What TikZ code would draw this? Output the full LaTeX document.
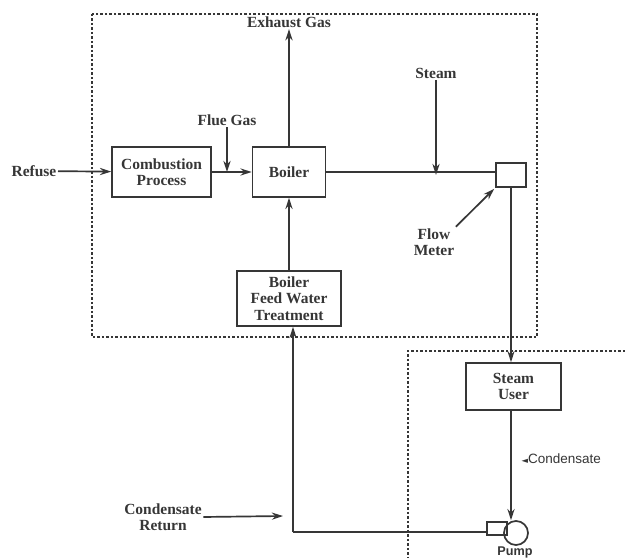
\documentclass[tikz,border=0pt]{standalone}
\usepackage{fontspec}
\setmainfont{Liberation Serif}
\setsansfont{Liberation Sans}
\newfontfamily\symfont{DejaVu Sans}
\definecolor{ink}  {HTML}{363636}
\definecolor{paper}{HTML}{FFFFFF}
\usetikzlibrary{arrows.meta}

\begin{document}
\begin{tikzpicture}[
  x=0.025cm, y=-0.025cm,
  text=ink,
  font=\fontsize{11}{11.6}\selectfont\bfseries,
  box/.style  ={draw=ink, line width=1.2pt, align=center, inner sep=0pt},
  pipe/.style ={draw=ink, line width=1.2pt},
  flow/.style ={pipe, -{Stealth[length=2.8mm, width=1.8mm]}},
  fence/.style={draw=ink, line width=2pt, dash pattern=on 1.7pt off 1.5pt},
  lbl/.style  ={align=center, inner sep=1pt},
]
  \useasboundingbox[fill=paper] (0,0) rectangle (625,558);

  % --- plant boundaries -----------------------------------------
  \draw[fence] (92,14) rectangle (537,337);
  \draw[fence] (625,351) -- (408,351) -- (408,558);

  % --- process units --------------------------------------------
  \node[box, minimum width=24.75mm, minimum height=12.5mm]
    (comb) at (161.5,172) {Combustion\\Process};
  \node[box, minimum width=18.25mm, minimum height=12.5mm]
    (boiler) at (289,172) {Boiler};
  \node[box, minimum width=26mm, minimum height=13.75mm]
    (bfwt) at (289,298.5) {Boiler\\Feed Water\\Treatment};
  \node[box, minimum width=7.5mm, minimum height=6mm]
    (meter) at (511,175) {};
  \node[box, minimum width=23.75mm, minimum height=11.75mm]
    (user) at (513.5,386.5) {Steam\\User};
  \node[box, circle, minimum size=6mm] (pump) at (516,533) {};
  \node[box, minimum width=5mm, minimum height=3.25mm]
    (pumpbox) at (497,528.5) {};

  % --- labels ---------------------------------------------------
  \node[lbl, anchor=east] (refuse)  at (58,171)   {Refuse};
  \node[lbl]              (flue)    at (227,120)  {Flue Gas};
  \node[lbl]              (exhaust) at (289,22)   {Exhaust Gas};
  \node[lbl]              (steam)   at (436,73)   {Steam};
  \node[lbl]              (meterlbl) at (434,242) {Flow\\Meter};
  \node[lbl]              (condret) at (163,517)  {Condensate\\Return};
  \node[lbl, anchor=west, font=\sffamily\fontsize{9.6}{10}\selectfont]
    (cond) at (520,459) {{\symfont\fontsize{6}{6}\selectfont ◄}Condensate};
  \node[lbl, font=\sffamily\bfseries\fontsize{9}{10}\selectfont]
    (pumplbl) at (515,552) {Pump};

  \coordinate (ret)   at (293,532);
  \coordinate (retin) at (283,516);

  % --- flows ----------------------------------------------------
  \draw[flow] (refuse) -- (comb);
  \draw[flow] (comb) -- (boiler);
  \draw[flow] (flue.south) -- (flue.south |- boiler.west);
  \draw[flow] (boiler) -- (exhaust);
  \draw[flow] (bfwt) -- (boiler);
  \draw[pipe] (boiler.east) -- (boiler.east -| meter.west);
  \draw[flow] (steam.south) -- (steam.south |- meter.west);
  \draw[flow, shorten >=1pt] (meterlbl.north east) -- (meter.south west);
  \draw[flow] (meter.south) -- (meter.south |- user.north);
  \draw[flow] (meter.south |- user.south) -- (meter.south |- pump.north);
  \draw[pipe] (pumpbox.west |- ret) -- (ret);
  \draw[flow] (ret) -- (ret |- bfwt.south);
  \draw[flow] (condret.east) -- (retin);
\end{tikzpicture}
\end{document}
